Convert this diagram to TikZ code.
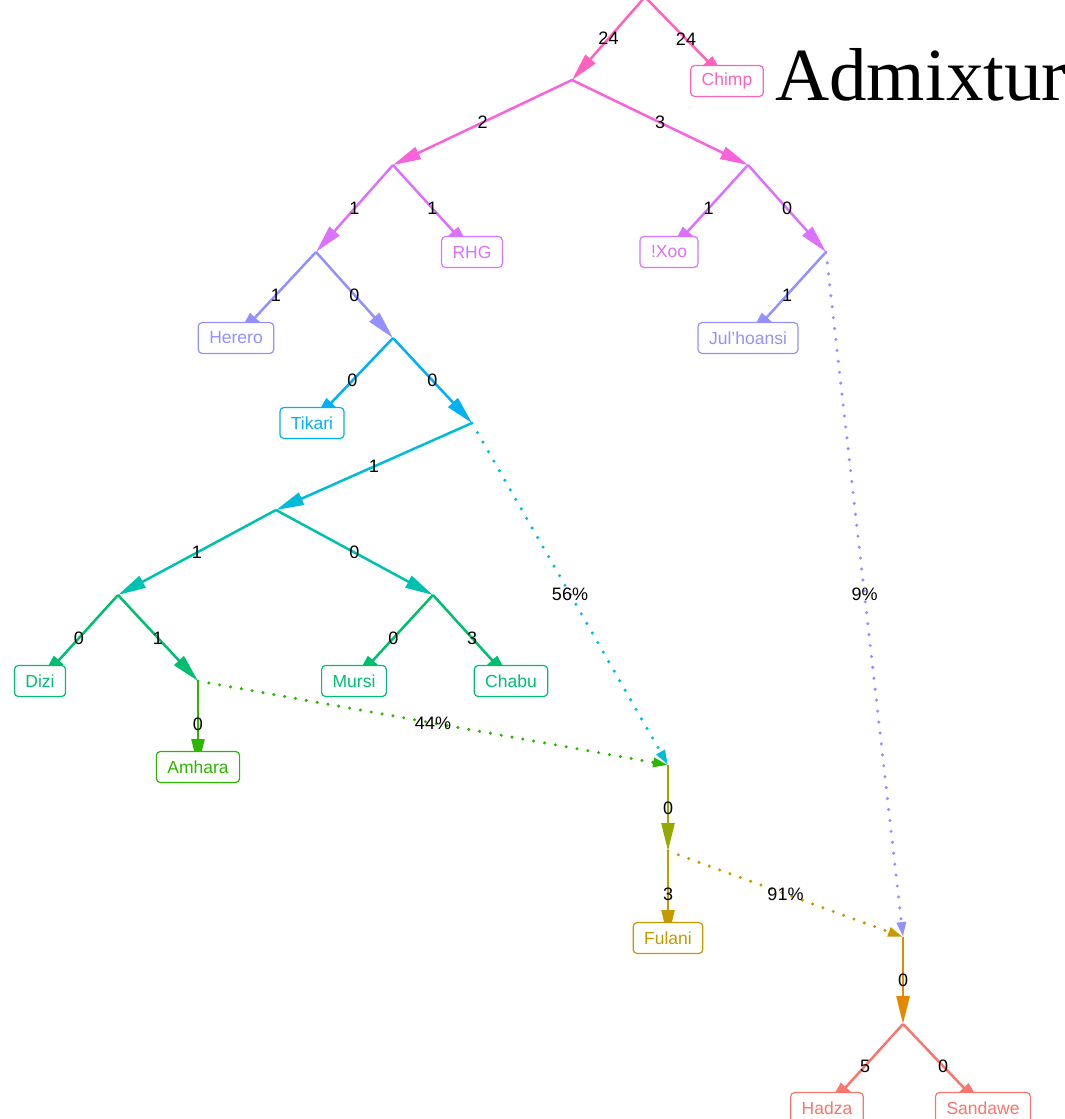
\documentclass[tikz,border=0pt]{standalone}
\usepackage{fontspec}
\setmainfont{Liberation Sans}
\newfontfamily\titlefont{Liberation Serif}
\usepackage{tikz}
\usetikzlibrary{arrows.meta}
\definecolor{rootpink}{HTML}{FF62BC}
\definecolor{hotmagenta}{HTML}{F863DC}
\definecolor{khoeviolet}{HTML}{DB72FB}
\definecolor{bantulav}{HTML}{9590FF}
\definecolor{skyblue}{HTML}{00B0F6}
\definecolor{cyanbr}{HTML}{00BCD8}
\definecolor{tealbr}{HTML}{00C0AF}
\definecolor{ethgreen}{HTML}{00BE70}
\definecolor{grassgreen}{HTML}{2DB600}
\definecolor{olivebr}{HTML}{95A900}
\definecolor{fulanigold}{HTML}{C49A00}
\definecolor{orangebr}{HTML}{E58700}
\definecolor{hadzasalmon}{HTML}{F8766D}
\pgfdeclarelayer{back}
\pgfsetlayers{back,main}

\begin{document}
\begin{tikzpicture}[x=1pt, y=-1pt,
    pop/.style={rectangle, draw=#1, text=#1, fill=white, line width=1.2pt,
                rounded corners=4pt, minimum height=31pt, inner xsep=11pt,
                font=\fontsize{17.5}{17.5}\selectfont},
    br/.style={draw=#1, line width=2.5pt, -{Triangle[length=28pt, width=13pt]}},
    mix/.style={draw=#1, line width=3.4pt, line cap=round, dash pattern=on 0pt off 11pt,
                -{Triangle[length=15pt, width=9pt]}},
    lbl/.style={font=\fontsize{18}{18}\selectfont, text=black, inner sep=0pt}
]
    \useasboundingbox (0,0) rectangle (1065,1119);

    % inner splits
    \coordinate (root) at (645,-3);
    \coordinate (africa) at (572,80);
    \coordinate (west) at (393,165);
    \coordinate (khoe) at (748,165);
    \coordinate (bantu) at (316,252);
    \coordinate (jul) at (826,252);
    \coordinate (niger) at (393,338);
    \coordinate (tik) at (472,423);
    \coordinate (east) at (276,510);
    \coordinate (horn) at (118,595);
    \coordinate (omo) at (433,595);
    \coordinate (amh) at (198,681);
    \coordinate (fulmix) at (668,765);
    \coordinate (fulsrc) at (668,851);
    \coordinate (hadmix) at (903,937);
    \coordinate (hadsrc) at (903,1024);

    % populations
    \node[pop=rootpink] (chimp) at (727,81) {Chimp};
    \node[pop=khoeviolet] (rhg) at (472,252) {RHG};
    \node[pop=khoeviolet] (xoo) at (669,252) {!Xoo};
    \node[pop=bantulav] (herero) at (236,338) {Herero};
    \node[pop=bantulav] (julhoansi) at (748,338) {Jul'hoansi};
    \node[pop=skyblue] (tikari) at (312,423) {Tikari};
    \node[pop=ethgreen] (dizi) at (40,681) {Dizi};
    \node[pop=ethgreen] (mursi) at (354,681) {Mursi};
    \node[pop=ethgreen] (chabu) at (511,681) {Chabu};
    \node[pop=grassgreen] (amhara) at (198,767) {Amhara};
    \node[pop=fulanigold] (fulani) at (668,938) {Fulani};
    \node[pop=hadzasalmon] (hadza) at (827,1108) {Hadza};
    \node[pop=hadzasalmon] (sandawe) at (983,1108) {Sandawe};

    % title
    \node[anchor=base west, inner sep=0pt, font=\titlefont\fontsize{75}{75}\selectfont]
        (title) at (775,100) {Admixtur};

    \begin{pgfonlayer}{back}
        % tree edges
        \draw[br=rootpink] (root) -- node[lbl] {24} (africa);
        \draw[br=rootpink] (root) -- node[lbl] {24} (chimp.center);
        \draw[br=hotmagenta] (africa) -- node[lbl] {2} (west);
        \draw[br=hotmagenta] (africa) -- node[lbl] {3} (khoe);
        \draw[br=khoeviolet] (west) -- node[lbl] {1} (bantu);
        \draw[br=khoeviolet] (west) -- node[lbl] {1} (rhg.center);
        \draw[br=khoeviolet] (khoe) -- node[lbl] {1} (xoo.center);
        \draw[br=khoeviolet] (khoe) -- node[lbl] {0} (jul);
        \draw[br=bantulav] (bantu) -- node[lbl] {1} (herero.center);
        \draw[br=bantulav] (bantu) -- node[lbl] {0} (niger);
        \draw[br=bantulav] (jul) -- node[lbl] {1} (julhoansi.center);
        \draw[br=skyblue] (niger) -- node[lbl] {0} (tikari.center);
        \draw[br=skyblue] (niger) -- node[lbl] {0} (tik);
        \draw[br=cyanbr] (tik) -- node[lbl] {1} (east);
        \draw[br=tealbr] (east) -- node[lbl] {1} (horn);
        \draw[br=tealbr] (east) -- node[lbl] {0} (omo);
        \draw[br=ethgreen] (horn) -- node[lbl] {0} (dizi.center);
        \draw[br=ethgreen] (horn) -- node[lbl] {1} (amh);
        \draw[br=ethgreen] (omo) -- node[lbl] {0} (mursi.center);
        \draw[br=ethgreen] (omo) -- node[lbl] {3} (chabu.center);
        \draw[br=grassgreen] (amh) -- node[lbl] {0} (amhara.center);
        \draw[br=olivebr] (fulmix) -- node[lbl] {0} (fulsrc);
        \draw[br=fulanigold] (fulsrc) -- node[lbl] {3} (fulani.center);
        \draw[br=orangebr] (hadmix) -- node[lbl] {0} (hadsrc);
        \draw[br=hadzasalmon] (hadsrc) -- node[lbl] {5} (hadza.center);
        \draw[br=hadzasalmon] (hadsrc) -- node[lbl] {0} (sandawe.center);

        % admixture edges
        \draw[mix=cyanbr] (tik) -- node[lbl] {56\%} (fulmix);
        \draw[mix=grassgreen] (amh) -- node[lbl] {44\%} (fulmix);
        \draw[mix=bantulav] (jul) -- node[lbl] {9\%} (hadmix);
        \draw[mix=fulanigold] (fulsrc) -- node[lbl] {91\%} (hadmix);
    \end{pgfonlayer}
\end{tikzpicture}
\end{document}
